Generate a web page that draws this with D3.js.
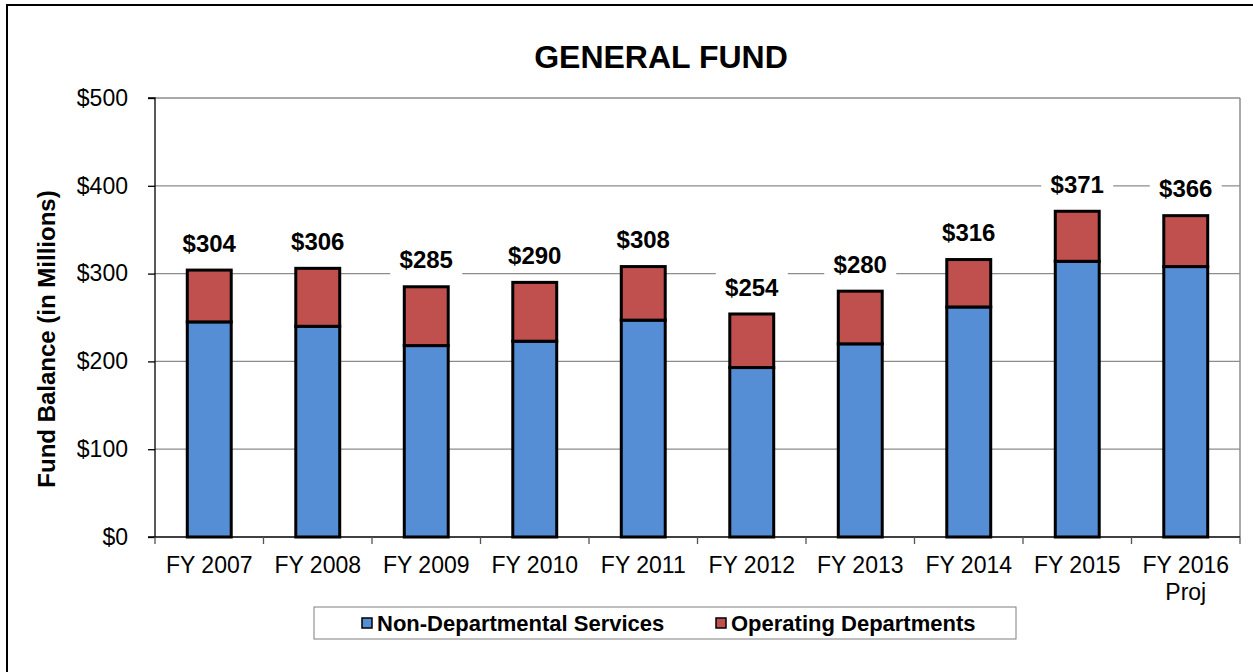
<!DOCTYPE html>
<html>
<head>
	<title>general fund</title>
	<style>
	body { margin: 0; background: #fff; }
	svg { font-family: "Liberation Sans", Arial, sans-serif; }
	.title { font-size: 32px; font-weight: bold; text-anchor: middle; }
	.ytitle { font-size: 24px; font-weight: bold; text-anchor: middle; }
	.tick text { font-size: 23px; fill: #000; }
	.total { font-size: 24px; font-weight: bold; text-anchor: middle; }
	.legtext { font-size: 22px; font-weight: bold; }
	</style>
	<script src="https://d3js.org/d3.v7.min.js"></script>
</head>
<body>
	<script type="text/javascript">
		var years = ['FY 2007', 'FY 2008', 'FY 2009', 'FY 2010', 'FY 2011', 'FY 2012', 'FY 2013', 'FY 2014', 'FY 2015', 'FY 2016\nProj'];
		var nonDept = [245, 240, 218, 223, 247, 193, 220, 262, 314, 308];
		var opDept = [59, 66, 67, 67, 61, 61, 60, 54, 57, 58];
		var totals = [304, 306, 285, 290, 308, 254, 280, 316, 371, 366];
		var yTicks = [0, 100, 200, 300, 400, 500];
		var seriesNames = ['Non-Departmental Services', 'Operating Departments'];
		var colors = ['#558ED5', '#C0504D'];

		var width = 1253, height = 672;
		var plotLeft = 155, plotRight = 1240, plotTop = 98, plotBottom = 537;

		var svg = d3.select('body').append('svg')
			.attr('width', width)
			.attr('height', height);

		// outer frame
		svg.append('rect')
			.attr('x', 7).attr('y', 5)
			.attr('width', width + 10).attr('height', height + 10)
			.attr('fill', 'none')
			.attr('stroke', '#000')
			.attr('stroke-width', 2);

		var x = d3.scaleBand().domain(years).range([plotLeft, plotRight]).paddingInner(0.595).paddingOuter(0.2975);
		var y = d3.scaleLinear().domain([0, 500]).range([plotBottom, plotTop]);
		var step = (plotRight - plotLeft) / years.length;

		// gridlines
		svg.append('g').selectAll('line')
			.data(yTicks.slice(1))
			.enter().append('line')
			.attr('x1', plotLeft).attr('x2', plotRight)
			.attr('y1', function (d) { return y(d); })
			.attr('y2', function (d) { return y(d); })
			.attr('stroke', '#8c8c8c')
			.attr('stroke-width', 1.3);

		svg.append('line')
			.attr('x1', plotRight).attr('x2', plotRight)
			.attr('y1', plotTop).attr('y2', plotBottom)
			.attr('stroke', '#8c8c8c')
			.attr('stroke-width', 1.5);

		// y axis
		var yAxis = svg.append('g')
			.attr('transform', 'translate(' + plotLeft + ',0)')
			.call(d3.axisLeft(y).tickValues(yTicks).tickSize(7).tickPadding(20)
				.tickFormat(function (d) { return '$' + d; }));
		yAxis.selectAll('path, line').attr('stroke', '#000').attr('stroke-width', 1.3);
		yAxis.select('.domain').attr('d', 'M-7,' + plotTop + 'H0V' + plotBottom + 'H-7');
		yAxis.selectAll('.tick text').style('font-size', '23px').attr('font-family', null);

		// x axis
		var xAxis = svg.append('g')
			.attr('transform', 'translate(0,' + plotBottom + ')')
			.call(d3.axisBottom(x).tickSize(0).tickFormat(''));
		xAxis.select('.domain').attr('d', 'M' + plotLeft + ',0H' + plotRight).attr('stroke', '#000').attr('stroke-width', 1.3);
		xAxis.selectAll('.tick text').remove();
		xAxis.selectAll('.tick').each(function (d) {
			var t = d3.select(this).append('text')
				.attr('text-anchor', 'middle')
				.style('font-size', '23px')
				.attr('fill', '#000');
			d.split('\n').forEach(function (line, i) {
				t.append('tspan').attr('x', 0).attr('y', 36 + i * 27).text(line);
			});
		});
		// tick marks between categories
		svg.append('g').selectAll('line')
			.data(d3.range(years.length + 1))
			.enter().append('line')
			.attr('x1', function (i) { return plotLeft + i * step; })
			.attr('x2', function (i) { return plotLeft + i * step; })
			.attr('y1', plotBottom).attr('y2', plotBottom + 7)
			.attr('stroke', '#555').attr('stroke-width', 1.3);

		// stacked bars
		var rows = years.map(function (yr, i) { return { year: yr, a: nonDept[i], b: opDept[i] }; });
		var stack = d3.stack().keys(['a', 'b'])(rows);
		svg.append('g').selectAll('g')
			.data(stack)
			.enter().append('g')
			.attr('fill', function (d, i) { return colors[i]; })
			.selectAll('rect')
			.data(function (d) { return d; })
			.enter().append('rect')
			.attr('x', function (d) { return x(d.data.year); })
			.attr('width', x.bandwidth())
			.attr('y', function (d) { return y(d[1]); })
			.attr('height', function (d) { return y(d[0]) - y(d[1]); })
			.attr('stroke', '#000')
			.attr('stroke-width', 3);

		// total labels with white background
		var labels = svg.append('g').selectAll('g')
			.data(totals)
			.enter().append('g')
			.attr('transform', function (d, i) {
				return 'translate(' + (x(years[i]) + x.bandwidth() / 2) + ',' + (y(d) - 27) + ')';
			});
		labels.append('rect')
			.attr('x', -36).attr('y', -16).attr('width', 72).attr('height', 32)
			.attr('fill', '#fff');
		labels.append('text')
			.attr('class', 'total')
			.attr('dy', '0.36em')
			.text(function (d) { return '$' + d; });

		// title
		svg.append('text')
			.attr('class', 'title')
			.attr('x', 661).attr('y', 68)
			.text('GENERAL FUND');

		svg.append('text')
			.attr('class', 'ytitle')
			.attr('transform', 'translate(55,339) rotate(-90)')
			.text('Fund Balance (in Millions)');

		// legend
		var leg = svg.append('g');
		leg.append('rect')
			.attr('x', 314).attr('y', 607).attr('width', 702).attr('height', 32)
			.attr('fill', '#fff').attr('stroke', '#7f7f7f').attr('stroke-width', 1);
		var legX = [362, 716];
		seriesNames.forEach(function (name, i) {
			leg.append('rect')
				.attr('x', legX[i]).attr('y', 618).attr('width', 10).attr('height', 10)
				.attr('fill', colors[i]).attr('stroke', '#000').attr('stroke-width', 1.5);
			leg.append('text')
				.attr('class', 'legtext')
				.attr('x', legX[i] + 15).attr('y', 631)
				.text(name);
		});
	</script>
</body>
</html>
